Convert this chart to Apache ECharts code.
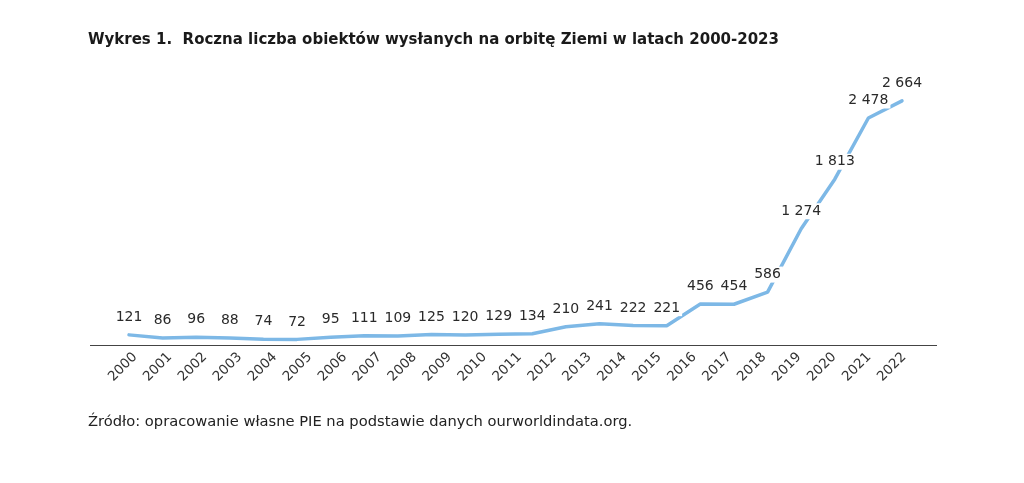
<!DOCTYPE html>
<html><head><meta charset="utf-8">
<script src="https://cdn.jsdelivr.net/npm/echarts@6/dist/echarts.min.js"></script>
<style>html,body{margin:0;padding:0;background:#fff}#c{width:1024px;height:483px}</style>
</head><body><div id="c"></div>
<script>
// Tick labels on the axis (as printed in the reference: 2000-2022)
const tickYears = ['2000','2001','2002','2003','2004','2005','2006','2007','2008','2009','2010','2011','2012','2013','2014','2015','2016','2017','2018','2019','2020','2021','2022'];
// Data years 2000-2023 (24 values, per title)
const dataYears = [2000,2001,2002,2003,2004,2005,2006,2007,2008,2009,2010,2011,2012,2013,2014,2015,2016,2017,2018,2019,2020,2021,2022,2023];
const objects = [121,86,96,88,74,72,95,111,109,125,120,129,134,210,241,222,221,456,454,586,1274,1813,2478,2664];
const chart = echarts.init(document.getElementById('c'));
const fmt = v => String(v).replace(/\B(?=(\d{3})+(?!\d))/g, ' ');
const font = "'DejaVu Sans', sans-serif";
chart.setOption({
  animation:false,
  title:{text:'Wykres 1.  Roczna liczba obiektów wysłanych na orbitę Ziemi w latach 2000-2023',left:88,top:33,padding:0,
    textStyle:{fontFamily:font,fontWeight:'bold',fontSize:15,color:'#1a1a1a'}},
  graphic:[{type:'text',left:88,top:415,style:{text:'Źródło: opracowanie własne PIE na podstawie danych ourworldindata.org.',fontFamily:font,fontSize:14.7,fill:'#222'}},
    {type:'line',shape:{x1:90,y1:345.5,x2:937,y2:345.5},style:{stroke:'#444',lineWidth:1.2},z:1}],
  grid:[{left:129,right:122,top:70,bottom:137},{left:135,right:120,top:70,bottom:138}],
  xAxis:[{type:'value',gridIndex:0,min:0,max:dataYears.length-1,show:false},
    {type:'category',gridIndex:1,data:tickYears,boundaryGap:false,axisLine:{show:false},axisTick:{show:false},
    axisLabel:{rotate:45,interval:0,fontFamily:font,fontSize:13.5,color:'#333',margin:10}}],
  yAxis:[{type:'value',gridIndex:0,min:0,max:3000,show:false},{type:'value',gridIndex:1,min:0,max:3000,show:false}],
  series:[{type:'line',xAxisIndex:0,yAxisIndex:0,data:objects.map((v,i)=>[i,v]),symbol:'circle',symbolSize:1,z:3,
    itemStyle:{color:'rgba(0,0,0,0)'},
    lineStyle:{color:'#7db8e6',width:3.5,cap:'round'},
    label:{show:true,position:'top',distance:9,formatter:p=>fmt(p.value[1]),fontFamily:font,fontSize:14,color:'#2a2a2a',
      backgroundColor:'#fff',padding:[1,2]}}]
});
</script>
</body></html>
